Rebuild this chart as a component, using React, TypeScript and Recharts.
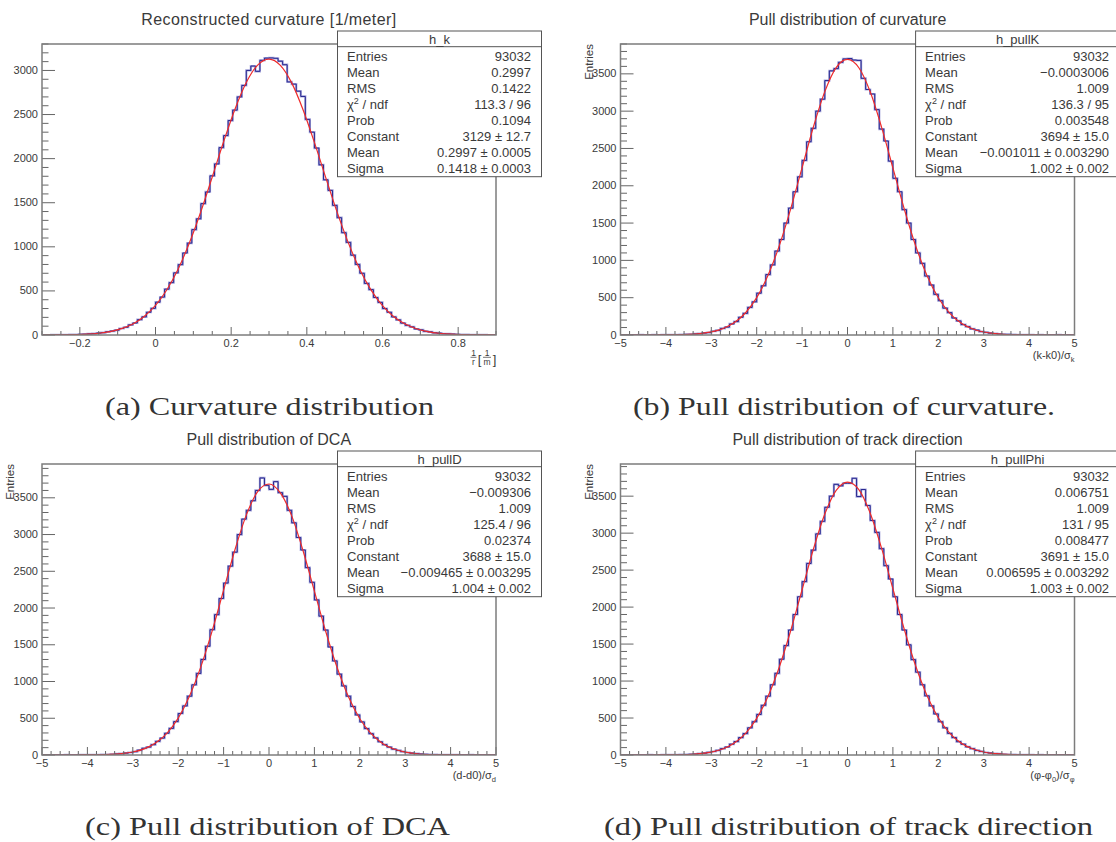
import { ComposedChart, Line, XAxis, YAxis } from "recharts"

const SANS = "'Liberation Sans', Arial, Helvetica, sans-serif"
const SERIF = "'Liberation Serif', 'Times New Roman', serif"
const INK = "#3a3a3a"

// bin contents, 100 bins each
const curvBins = [
  0, 0, 1, 2, 1, 3, 5, 4, 8, 9,
  13, 15, 22, 26, 37, 45, 55, 74, 88, 115,
  136, 174, 206, 258, 302, 372, 430, 520, 594, 705,
  798, 930, 1042, 1195, 1318, 1490, 1622, 1805, 1940, 2125,
  2262, 2432, 2550, 2700, 2830, 3000, 3050, 2990, 3115, 3140,
  3142, 3138, 3105, 3065, 2870, 2845, 2765, 2705, 2445, 2300,
  2120, 1930, 1760, 1640, 1470, 1330, 1160, 1050, 905, 800,
  700, 585, 515, 425, 370, 300, 258, 205, 172, 135,
  110, 92, 68, 58, 42, 36, 25, 21, 14, 12,
  10, 7, 4, 5, 2, 2, 1, 1, 0, 0,
]
const pullKBins = [
  0, 0, 0, 0, 1, 0, 0, 1, 0, 1,
  2, 1, 3, 4, 8, 9, 14, 18, 27, 33,
  50, 62, 88, 106, 148, 180, 238, 290, 370, 445,
  560, 660, 810, 940, 1125, 1280, 1500, 1700, 1920, 2120,
  2340, 2590, 2770, 3000, 3160, 3410, 3540, 3570, 3655, 3700,
  3705, 3685, 3680, 3440, 3290, 3230, 3020, 2760, 2600, 2330,
  2100, 1920, 1680, 1500, 1280, 1100, 960, 790, 670, 545,
  460, 360, 300, 228, 188, 140, 112, 82, 66, 46,
  36, 25, 20, 12, 9, 8, 4, 3, 2, 1,
  1, 0, 1, 0, 0, 0, 1, 0, 0, 0,
]
const pullDBins = [
  0, 0, 0, 0, 0, 1, 0, 0, 1, 1,
  1, 2, 2, 4, 6, 9, 14, 18, 26, 34,
  45, 66, 92, 108, 140, 186, 230, 296, 362, 455,
  565, 668, 800, 955, 1110, 1300, 1480, 1705, 1910, 2130,
  2340, 2570, 2760, 3000, 3210, 3330, 3460, 3600, 3770, 3670,
  3615, 3720, 3570, 3520, 3330, 3160, 2960, 2790, 2550, 2350,
  2110, 1890, 1700, 1470, 1280, 1100, 940, 800, 660, 545,
  450, 360, 290, 232, 180, 140, 108, 80, 62, 46,
  34, 25, 18, 13, 9, 7, 4, 3, 2, 1,
  1, 1, 0, 0, 1, 0, 0, 0, 0, 0,
]
const pullPhiBins = [
  0, 0, 0, 0, 0, 0, 1, 0, 0, 1,
  1, 1, 3, 4, 7, 10, 12, 20, 25, 36,
  47, 63, 86, 108, 146, 182, 236, 290, 368, 450,
  548, 672, 795, 950, 1105, 1295, 1480, 1690, 1900, 2140,
  2345, 2590, 2770, 2990, 3160, 3350, 3500, 3660, 3640, 3675,
  3675, 3742, 3495, 3590, 3374, 3171, 3010, 2790, 2560, 2380,
  2140, 1900, 1690, 1490, 1290, 1120, 950, 800, 665, 555,
  450, 368, 292, 236, 180, 146, 110, 86, 62, 48,
  34, 27, 18, 14, 9, 7, 5, 3, 2, 1,
  1, 0, 1, 0, 0, 0, 0, 0, 0, 0,
]

// red fit curves: curvature every 0.03 from -0.3, pulls every 0.25 from -5
const curvFit = [
  0, 1, 2, 5, 10, 20, 39, 72, 125, 210, 335, 513, 749, 1048, 1401, 1792, 2191, 2561, 2864, 3061,
  3129, 3058, 2859, 2554, 2184, 1784, 1393, 1042, 744, 509, 332, 207, 124, 71, 39, 20, 10, 5, 2, 1, 0,
]
const pullKFit = [
  0, 0, 0, 0, 1, 3, 8, 19, 41, 84, 163, 295, 501, 801, 1201, 1694, 2243, 2791, 3262, 3584,
  3694, 3582, 3260, 2786, 2239, 1689, 1197, 797, 499, 293, 161, 83, 40, 18, 7, 3, 1, 0, 0, 0, 0,
]
const pullDFit = [
  0, 0, 0, 0, 1, 3, 8, 19, 41, 84, 163, 295, 502, 803, 1202, 1692, 2243, 2793, 3264, 3584,
  3688, 3567, 3254, 2780, 2231, 1680, 1190, 793, 494, 290, 158, 81, 39, 17, 7, 3, 1, 0, 0, 0, 0,
]
const pullPhiFit = [
  0, 0, 0, 0, 1, 3, 7, 18, 40, 82, 160, 290, 496, 795, 1194, 1684, 2235, 2785, 3258, 3578,
  3691, 3590, 3270, 2798, 2250, 1700, 1206, 805, 503, 296, 163, 84, 41, 18, 8, 3, 1, 0, 0, 0, 0,
]

const curvXLabels = [-0.2, 0, 0.2, 0.4, 0.6, 0.8]
const pullXLabels = [-5, -4, -3, -2, -1, 0, 1, 2, 3, 4, 5]

const statsK = [
  ["Entries", "93032"], ["Mean", "0.2997"], ["RMS", "0.1422"], ["chi", "113.3 / 96"],
  ["Prob", "0.1094"], ["Constant", "3129 ± 12.7"], ["Mean", "0.2997 ± 0.0005"], ["Sigma", "0.1418 ± 0.0003"],
]
const statsPullK = [
  ["Entries", "93032"], ["Mean", "−0.0003006"], ["RMS", "1.009"], ["chi", "136.3 / 95"],
  ["Prob", "0.003548"], ["Constant", "3694 ± 15.0"], ["Mean", "−0.001011 ± 0.003290"], ["Sigma", "1.002 ± 0.002"],
]
const statsPullD = [
  ["Entries", "93032"], ["Mean", "−0.009306"], ["RMS", "1.009"], ["chi", "125.4 / 96"],
  ["Prob", "0.02374"], ["Constant", "3688 ± 15.0"], ["Mean", "−0.009465 ± 0.003295"], ["Sigma", "1.004 ± 0.002"],
]
const statsPullPhi = [
  ["Entries", "93032"], ["Mean", "0.006751"], ["RMS", "1.009"], ["chi", "131 / 95"],
  ["Prob", "0.008477"], ["Constant", "3691 ± 15.0"], ["Mean", "0.006595 ± 0.003292"], ["Sigma", "1.003 ± 0.002"],
]

const CH = 400
const AX_W = 40
const AX_H = 20

type Panel = {
  left: number
  top: number
  width: number
  margin: { top: number; right: number; bottom: number; left: number }
  xMin: number
  xMax: number
  binW: number
  bins: number[]
  fitStep: number
  fit: number[]
  yMax: number
  xMajor: number[]
  xMinor: number
}

const marginA = { top: 44, right: 60, bottom: 45, left: 2 }
const marginB = { top: 44, right: 41.5, bottom: 45, left: 24.5 }

const panels: Panel[] = [
  { left: 0, top: 0, width: 556, margin: marginA, xMin: -0.3, xMax: 0.9, binW: 0.012, bins: curvBins, fitStep: 0.03, fit: curvFit, yMax: 3300, xMajor: curvXLabels, xMinor: 0.05 },
  { left: 556, top: 0, width: 560, margin: marginB, xMin: -5, xMax: 5, binW: 0.1, bins: pullKBins, fitStep: 0.25, fit: pullKFit, yMax: 3900, xMajor: pullXLabels, xMinor: 0.2 },
  { left: 0, top: 420, width: 556, margin: marginA, xMin: -5, xMax: 5, binW: 0.1, bins: pullDBins, fitStep: 0.25, fit: pullDFit, yMax: 3960, xMajor: pullXLabels, xMinor: 0.2 },
  { left: 556, top: 420, width: 560, margin: marginB, xMin: -5, xMax: 5, binW: 0.1, bins: pullPhiBins, fitStep: 0.25, fit: pullPhiFit, yMax: 3935, xMajor: pullXLabels, xMinor: 0.2 },
]

const fmt = (v: number) => (v < 0 ? "−" + Math.abs(v) : String(v))

function XTick(props: any) {
  const { x, y, payload, majors } = props
  const major = majors.some((m: number) => Math.abs(m - payload.value) < 1e-6)
  return (
    <g>
      <line x1={x} x2={x} y1={y} y2={y - (major ? 8 : 4)} stroke="#666" strokeWidth={1} />
      {major && (
        <text x={x} y={y + 12} textAnchor="middle" fontSize={11} fontFamily={SANS} fill={INK}>
          {fmt(payload.value)}
        </text>
      )}
    </g>
  )
}

function YTick(props: any) {
  const { x, y, payload } = props
  const major = payload.value % 500 === 0
  return (
    <g>
      <line x1={x} x2={x + (major ? 13 : 6.5)} y1={y} y2={y} stroke="#666" strokeWidth={1} />
      {major && (
        <text x={x - 4} y={y + 3.5} textAnchor="end" fontSize={11} fontFamily={SANS} fill={INK}>
          {payload.value}
        </text>
      )}
    </g>
  )
}

function HistChart({ p }: { p: Panel }) {
  const hist = p.bins.map((v, i) => ({ x: p.xMin + i * p.binW, y: v }))
  hist.push({ x: p.xMax, y: p.bins[p.bins.length - 1] })
  const fit = p.fit.map((v, i) => ({ x: p.xMin + i * p.fitStep, y: v }))
  const n = Math.round((p.xMax - p.xMin) / p.xMinor)
  const xTicks = Array.from({ length: n + 1 }, (_, i) => +(p.xMin + i * p.xMinor).toFixed(3))
  const yTicks = Array.from({ length: Math.floor(p.yMax / 100) + 1 }, (_, i) => i * 100)
  return (
    <div style={{ position: "absolute", left: p.left, top: p.top }}>
      <ComposedChart width={p.width} height={CH} margin={p.margin}>
        <XAxis
          type="number"
          dataKey="x"
          domain={[p.xMin, p.xMax]}
          allowDataOverflow
          ticks={xTicks}
          interval={0}
          height={AX_H}
          tickSize={0}
          tickMargin={0}
          axisLine={false}
          tickLine={false}
          tick={(t: any) => <XTick {...t} majors={p.xMajor} />}
        />
        <YAxis
          type="number"
          domain={[0, p.yMax]}
          allowDataOverflow
          ticks={yTicks}
          interval={0}
          width={AX_W}
          tickSize={0}
          tickMargin={0}
          axisLine={false}
          tickLine={false}
          tick={(t: any) => <YTick {...t} />}
        />
        <Line data={hist} dataKey="y" type="stepAfter" stroke="#a9a9dc" strokeWidth={2.2} dot={false} activeDot={false} isAnimationActive={false} />
        <Line data={hist} dataKey="y" type="stepAfter" stroke="#27278f" strokeWidth={1} dot={false} activeDot={false} isAnimationActive={false} />
        <Line data={fit} dataKey="y" type="monotone" stroke="#ef2b2b" strokeWidth={1.2} dot={false} activeDot={false} isAnimationActive={false} />
      </ComposedChart>
    </div>
  )
}

function StatsBox({ x, y, name, rows }: { x: number; y: number; name: string; rows: string[][] }) {
  const w = 204
  return (
    <g fontFamily={SANS} fill={INK}>
      <rect x={x} y={y} width={w} height={145.7} fill="#fff" stroke="#555" strokeWidth={1} />
      <line x1={x} x2={x + w} y1={y + 15.7} y2={y + 15.7} stroke="#555" strokeWidth={1} />
      <text x={x + w / 2} y={y + 13} textAnchor="middle" fontSize={13}>{name}</text>
      {rows.map((r, i) => {
        const by = y + 29.5 + i * 16.04
        return (
          <g key={i}>
            <text x={x + 9.5} y={by} fontSize={13}>
              {r[0] === "chi" ? (
                <>
                  χ<tspan dy={-5} fontSize={9}>2</tspan>
                  <tspan dy={5}> / ndf</tspan>
                </>
              ) : (
                r[0]
              )}
            </text>
            <text x={x + w - 10.5} y={by} fontSize={13} textAnchor="end">{r[1]}</text>
          </g>
        )
      })}
    </g>
  )
}

function Overlay() {
  const frames = panels.map((p) => ({
    x: p.left + p.margin.left + AX_W,
    y: p.top + p.margin.top,
    w: p.width - p.margin.left - AX_W - p.margin.right,
    h: CH - p.margin.top - p.margin.bottom - AX_H,
  }))
  const title = { fontSize: 16, fontFamily: SANS, fill: INK, textAnchor: "middle" as const }
  const cap = { fontSize: 25, fontFamily: SERIF, fill: "#333", lengthAdjust: "spacingAndGlyphs" as const }
  const small = { fontSize: 11.5, fontFamily: SANS, fill: INK }
  const axTitle = { fontSize: 11, fontFamily: SANS, fill: INK, textAnchor: "end" as const }
  return (
    <svg width={1116} height={842} style={{ position: "absolute", left: 0, top: 0, pointerEvents: "none" }}>
      {frames.map((f, i) => (
        <rect key={i} x={f.x} y={f.y} width={f.w} height={f.h} fill="none" stroke="#7c7c7c" strokeWidth={1.5} />
      ))}

      <text x={268.7} y={25} textLength={255} {...title}>Reconstructed curvature [1/meter]</text>
      <text x={847.6} y={25} {...title}>Pull distribution of curvature</text>
      <text x={268.8} y={445} {...title}>Pull distribution of DCA</text>
      <text x={847.6} y={445} {...title}>Pull distribution of track direction</text>

      <StatsBox x={337.5} y={31} name="h_k" rows={statsK} />
      <StatsBox x={915.6} y={31} name="h_pullK" rows={statsPullK} />
      <StatsBox x={337.5} y={451} name="h_pullD" rows={statsPullD} />
      <StatsBox x={915.6} y={451} name="h_pullPhi" rows={statsPullPhi} />

      {/* x axis titles */}
      <g fontFamily={SANS} fill={INK} fontSize={8.5} textAnchor="middle">
        <text x={473.5} y={355.5}>1</text>
        <line x1={470.5} x2={476.5} y1={357.3} y2={357.3} stroke={INK} strokeWidth={0.7} />
        <text x={473.5} y={364.5}>r</text>
        <text x={479.5} y={363.5} fontSize={13}>[</text>
        <text x={487} y={355.5}>1</text>
        <line x1={483} x2={491} y1={357.3} y2={357.3} stroke={INK} strokeWidth={0.7} />
        <text x={487} y={364.5}>m</text>
        <text x={494.5} y={363.5} fontSize={13}>]</text>
      </g>
      <text x={1074.5} y={359} {...axTitle}>
        (k-k0)/σ<tspan fontSize={7.5} dy={3}>k</tspan>
      </text>
      <text x={496} y={779} {...axTitle}>
        (d-d0)/σ<tspan fontSize={7.5} dy={3}>d</tspan>
      </text>
      <text x={1074.5} y={779} {...axTitle}>
        (φ-φ<tspan fontSize={7.5} dy={3}>0</tspan>
        <tspan dy={-3}>)/σ</tspan>
        <tspan fontSize={7.5} dy={3}>φ</tspan>
      </text>

      {/* y axis titles */}
      <text transform="translate(592.5,44) rotate(-90)" textAnchor="end" {...small}>Entries</text>
      <text transform="translate(14.3,464) rotate(-90)" textAnchor="end" {...small}>Entries</text>
      <text transform="translate(592.5,464) rotate(-90)" textAnchor="end" {...small}>Entries</text>

      {/* sub-figure captions */}
      <text x={105} y={415} textLength={329} {...cap}>(a) Curvature distribution</text>
      <text x={633} y={415} textLength={422} {...cap}>(b) Pull distribution of curvature.</text>
      <text x={85} y={835} textLength={365} {...cap}>(c) Pull distribution of DCA</text>
      <text x={604} y={835} textLength={489} {...cap}>(d) Pull distribution of track direction</text>
    </svg>
  )
}

export default function App() {
  return (
    <div style={{ position: "absolute", left: 0, top: 0, width: 1116, height: 842, background: "#fff", overflow: "hidden" }}>
      {panels.map((p, i) => (
        <HistChart key={i} p={p} />
      ))}
      <Overlay />
    </div>
  )
}
